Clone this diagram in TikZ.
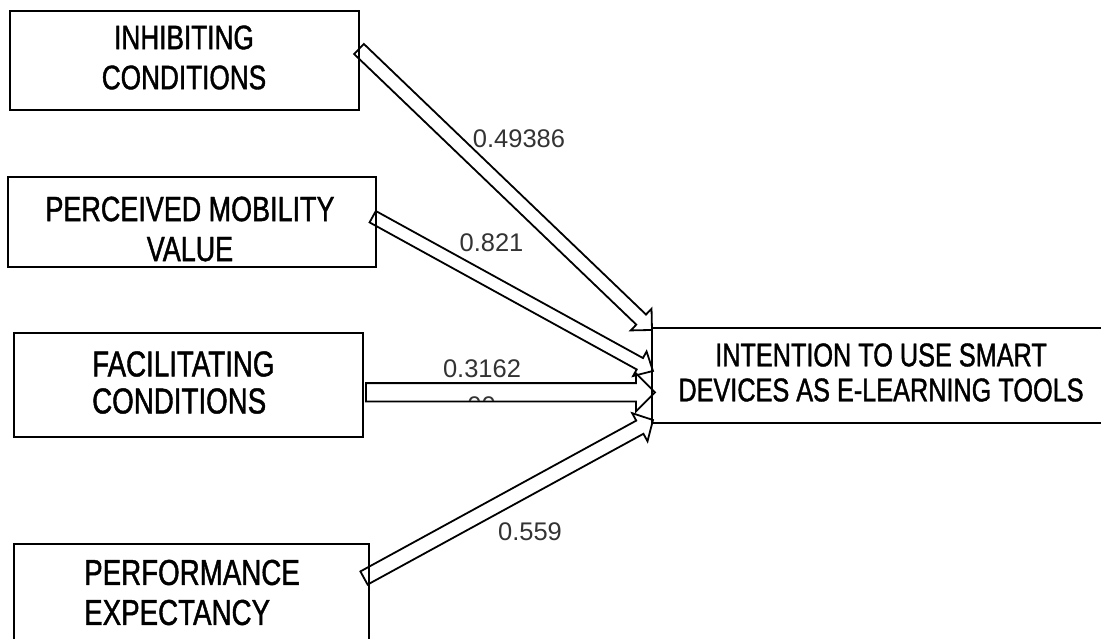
\documentclass[tikz,border=0pt]{standalone}
\usepackage{fontspec}
\setmainfont{Liberation Sans}[FakeStretch=0.77, FakeBold=1.2]
\newfontfamily\numfont{Liberation Sans}
\usetikzlibrary{calc}
\tikzset{
  boxnode/.style={draw=black, line width=2pt, rectangle, inner sep=0pt, outer sep=0pt},
  boxtext/.style={inner sep=0pt, text=black},
  weight/.style={inner sep=0pt, text=black!80, font=\numfont\fontsize{25.5}{30}\selectfont},
  arrowline/.style={draw=black, line width=1.8pt, line join=miter},
}
\newcommand{\blockarrow}[5]{%
  \path (#1); \pgfgetlastxy{\bax}{\bay}%
  \path (#2); \pgfgetlastxy{\bbx}{\bby}%
  \pgfmathsetmacro{\baang}{atan2(\bby-\bay,\bbx-\bax)}%
  \pgfmathsetmacro{\balen}{veclen(\bbx-\bax,\bby-\bay)}%
  \draw[arrowline, shift={(\bax,\bay)}, rotate=\baang]
    (0pt,#3pt) -- ({\balen pt-#5pt},#3pt) -- ({\balen pt-#5pt},#4pt) -- (\balen pt,0pt)
    -- ({\balen pt-#5pt},-#4pt) -- ({\balen pt-#5pt},-#3pt) -- (0pt,-#3pt) -- cycle;%
}
\begin{document}
\begin{tikzpicture}[x=1pt,y=-1pt]
\fill[white] (0,0) rectangle (1101,639);
\clip (0,0) rectangle (1101,639);
% boxes
\node[boxnode, minimum width=349pt, minimum height=99pt] (b1) at (184.5,60.5) {};
\node[boxnode, minimum width=368pt, minimum height=90pt] (b2) at (192,222) {};
\node[boxnode, minimum width=349pt, minimum height=104pt] (b3) at (188,385) {};
\node[boxnode, minimum width=355pt, minimum height=97pt] (b4) at (191.5,592.5) {};
\node[boxnode, minimum width=463pt, minimum height=95pt] (T) at (883.5,375.5) {};
% texts
\node[boxtext, align=center, font=\fontsize{34}{40}\selectfont] (t1) at (184,57.5) {INHIBITING\\CONDITIONS};
\node[boxtext, align=center, font=\fontsize{35}{40}\selectfont] (t2) at (190,229) {PERCEIVED MOBILITY\\VALUE};
\node[boxtext, align=left, anchor=west, font=\fontsize{36}{37}\selectfont] (t3) at (92,382.5) {FACILITATING\\CONDITIONS};
\node[boxtext, align=left, anchor=west, font=\fontsize{36}{40}\selectfont] (t4) at (84,592.5) {PERFORMANCE\\EXPECTANCY};
\node[boxtext, align=center, font=\fontsize{32.8}{35}\selectfont] (tT) at (881,372.5) {INTENTION TO USE SMART\\DEVICES AS E-LEARNING TOOLS};
% arrow ends
\coordinate (s1) at ($(b1.east)+(0,-11.5)$);
\coordinate (s2) at ($(b2.east)+(-3.3,-5.3)$);
\coordinate (s3) at ($(b3.east)+(3.5,7.3)$);
\coordinate (s4) at ($(b4.east)+(-5,-14.5)$);
\coordinate (e1) at ($(T.west)+(0,-45.5)$);
\coordinate (e2) at ($(T.west)+(1,-4.5)$);
\coordinate (e3) at ($(T.west)+(3,16.8)$);
\coordinate (e4) at ($(T.west)+(1,44.5)$);
\blockarrow{s1}{e1}{7}{15}{15}
\blockarrow{s2}{e2}{6.5}{14}{15}
\blockarrow{s3}{e3}{9.2}{19}{19}
\blockarrow{s4}{e4}{7.5}{16}{15}
% weights
\node[weight] (w1) at (519,139) {0.49386};
\node[weight] (w2) at (491.5,242.5) {0.821};
\node[weight] (w3) at (482,368.5) {0.3162};
\node[weight] (w4) at (530,531.5) {0.559};
\begin{scope}
\clip (440,394) rectangle (530,400.5);
\node[weight] (w5) at (481.5,405.5) {00};
\end{scope}
\end{tikzpicture}
\end{document}
